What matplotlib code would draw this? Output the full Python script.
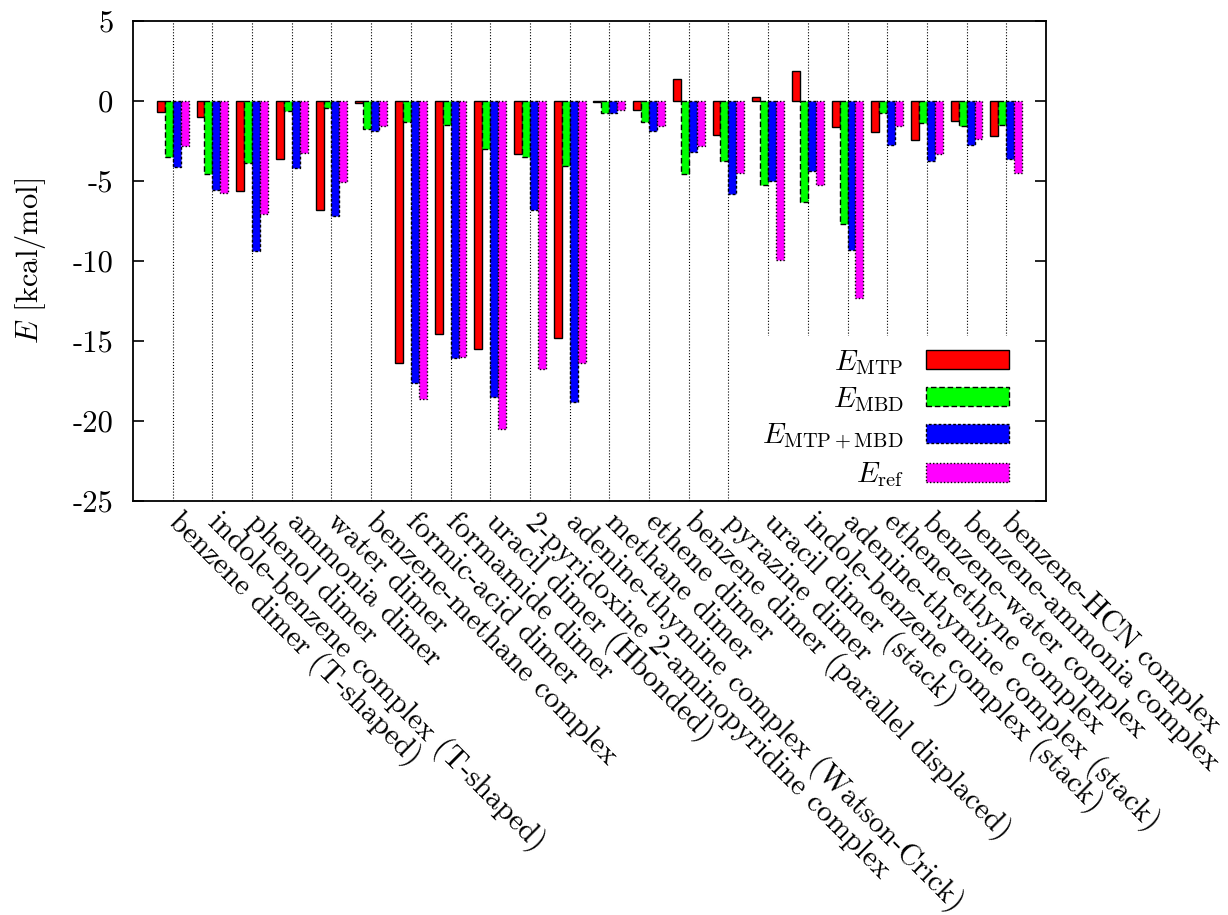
import matplotlib
matplotlib.use('Agg')
import matplotlib.pyplot as plt
import numpy as np

plt.rcParams['font.family'] = ['cmr10', 'DejaVu Serif']
plt.rcParams['mathtext.fontset'] = 'cm'
plt.rcParams['axes.unicode_minus'] = False

systems = [
    'benzene dimer (T-shaped)',
    'indole-benzene complex (T-shaped)',
    'phenol dimer',
    'ammonia dimer',
    'water dimer',
    'benzene-methane complex',
    'formic-acid dimer',
    'formamide dimer',
    'uracil dimer (Hbonded)',
    '2-pyridoxine 2-aminopyridine complex',
    'adenine-thymine complex (Watson-Crick)',
    'methane dimer',
    'ethene dimer',
    'benzene dimer (parallel displaced)',
    'pyrazine dimer',
    'uracil dimer (stack)',
    'indole-benzene complex (stack)',
    'adenine-thymine complex (stack)',
    'ethene-ethyne complex',
    'benzene-water complex',
    'benzene-ammonia complex',
    'benzene-HCN complex',
]

e_mtp = [-0.71, -1.02, -5.60, -3.60, -6.83, -0.15, -16.35, -14.58, -15.48, -3.33, -14.81,
         -0.06, -0.58, 1.35, -2.13, 0.23, 1.85, -1.65, -1.96, -2.46, -1.23, -2.17]
e_mbd = [-3.48, -4.58, -3.85, -0.63, -0.44, -1.77, -1.33, -1.52, -3.02, -3.50, -4.06,
         -0.77, -1.31, -4.58, -3.77, -5.23, -6.29, -7.71, -0.77, -1.35, -1.58, -1.52]
e_sum = [-4.15, -5.54, -9.38, -4.17, -7.21, -1.90, -17.65, -16.08, -18.48, -6.81, -18.83,
         -0.73, -1.90, -3.17, -5.83, -5.00, -4.38, -9.29, -2.73, -3.77, -2.77, -3.65]
e_ref = [-2.79, -5.77, -7.08, -3.23, -5.06, -1.54, -18.63, -15.98, -20.48, -16.75, -16.40,
         -0.58, -1.54, -2.79, -4.48, -9.92, -5.25, -12.29, -1.56, -3.31, -2.40, -4.50]

series = [
    (e_mtp, r'$E_\mathrm{MTP}$', '#ff0000', '-'),
    (e_mbd, r'$E_\mathrm{MBD}$', '#00ff00', (0, (4, 2))),
    (e_sum, r'$E_\mathrm{MTP+MBD}$', '#0000ff', (0, (2, 1.5))),
    (e_ref, r'$E_\mathrm{ref}$', '#ff00ff', (0, (1, 1.5))),
]

fig = plt.figure(figsize=(12.28, 9.15), dpi=100)
ax = fig.add_axes([0.1083, 0.4525, 0.7435, 0.5245])

x = np.arange(len(systems))
w = 0.2
for i, (vals, lab, col, ls) in enumerate(series):
    ax.bar(x + (i - 1.5) * w, vals, width=w, color=col, edgecolor='black',
           linewidth=1.0, linestyle=ls, label=lab, zorder=3)

fs = 22
ax.set_xlim(-1, len(systems))
ax.set_ylim(-25, 5)
ax.set_yticks(range(-25, 6, 5))
ax.set_yticklabels([str(v) for v in range(-25, 6, 5)])
ax.set_xticks(x)
ax.set_xticklabels(systems, rotation=-45, ha='left', va='center',
                   rotation_mode='anchor')
ax.tick_params(axis='x', length=0, pad=12, labelsize=21.6)
ax.tick_params(axis='y', direction='in', length=8, width=1.2, right=True,
               pad=14, labelsize=fs)
ax.xaxis.grid(True, linestyle=':', color='black', linewidth=0.8)
ax.set_axisbelow(True)
for s in ax.spines.values():
    s.set_linewidth(1.3)

ax.set_ylabel(r'$E$ [kcal/mol]', fontsize=fs, labelpad=18)

leg = ax.legend(loc='lower right', bbox_to_anchor=(0.972, 0.0),
                markerfirst=False, fontsize=21,
                frameon=True, framealpha=1, edgecolor='white', fancybox=False,
                handlelength=2.85, handleheight=0.62, labelspacing=0.28,
                borderaxespad=0.0, borderpad=0.4, handletextpad=0.75)
leg.set_zorder(2.4)

fig.savefig('out.png', dpi=100)
